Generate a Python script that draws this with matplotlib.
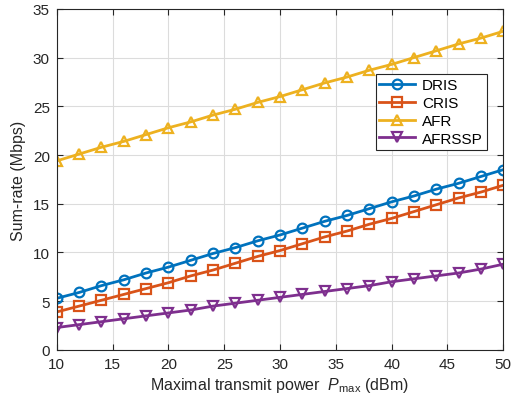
import matplotlib
matplotlib.use('Agg')
import matplotlib.pyplot as plt

plt.rcParams['font.family'] = ['Liberation Sans', 'DejaVu Sans']
plt.rcParams['mathtext.fontset'] = 'custom'
plt.rcParams['mathtext.rm'] = 'Liberation Sans'
plt.rcParams['mathtext.it'] = 'Liberation Sans:italic'

power = [10, 12, 14, 16, 18, 20, 22, 24, 26, 28, 30, 32, 34, 36, 38, 40, 42, 44, 46, 48, 50]
dris = [5.3, 5.9, 6.6, 7.2, 7.9, 8.5, 9.2, 9.9, 10.5, 11.2, 11.8, 12.5, 13.2, 13.8, 14.5,
        15.2, 15.8, 16.5, 17.1, 17.8, 18.5]
cris = [3.9, 4.5, 5.1, 5.7, 6.3, 6.9, 7.6, 8.2, 8.9, 9.6, 10.2, 10.9, 11.6, 12.2, 12.9,
        13.5, 14.2, 14.9, 15.6, 16.2, 16.9]
afr = [19.4, 20.1, 20.8, 21.4, 22.1, 22.8, 23.4, 24.1, 24.7, 25.4, 26.0, 26.7, 27.4, 28.0,
       28.7, 29.3, 30.0, 30.7, 31.4, 32.0, 32.7]
afrssp = [2.3, 2.6, 2.9, 3.2, 3.5, 3.8, 4.1, 4.5, 4.8, 5.1, 5.4, 5.7, 6.0, 6.3, 6.6,
          7.0, 7.3, 7.6, 7.9, 8.3, 8.8]

series = [('DRIS', dris, '#0072BD', 'o'),
          ('CRIS', cris, '#D95319', 's'),
          ('AFR', afr, '#EDB120', '^'),
          ('AFRSSP', afrssp, '#7E2F8E', 'v')]

fig = plt.figure(figsize=(5.12, 4.10), dpi=100)
ax = fig.add_axes([0.111, 0.144, 0.872, 0.832])

for name, vals, c, m in series:
  ax.plot(power, vals, color=c, marker=m, markerfacecolor='none', markeredgewidth=1.6,
          markersize=7, linewidth=2, label=name)

ax.set_xlim(10, 50)
ax.set_ylim(0, 35)
ax.set_xticks(range(10, 51, 5))
ax.set_yticks(range(0, 36, 5))
ax.grid(True, color='#dcdcdc', linewidth=0.8)
ax.set_axisbelow(True)
ax.tick_params(direction='in', top=True, right=True, labelsize=11, colors='#262626',
               length=4, pad=5)
for s in ax.spines.values():
  s.set_color('#262626')
  s.set_linewidth(0.8)

ax.set_xlabel(r'Maximal transmit power  $P_{\rm max}$ (dBm)', fontsize=11.5, color='#262626',
              labelpad=3)
ax.set_ylabel('Sum-rate (Mbps)', fontsize=11.5, color='#262626', labelpad=5)

leg = ax.legend(loc='upper right', bbox_to_anchor=(0.98, 0.83), fontsize=11,
                fancybox=False, edgecolor='#262626', framealpha=1,
                handlelength=2.3, borderpad=0.25, labelspacing=0.25, handletextpad=0.5)
leg.get_frame().set_linewidth(0.8)

plt.savefig('out.png', dpi=100)
